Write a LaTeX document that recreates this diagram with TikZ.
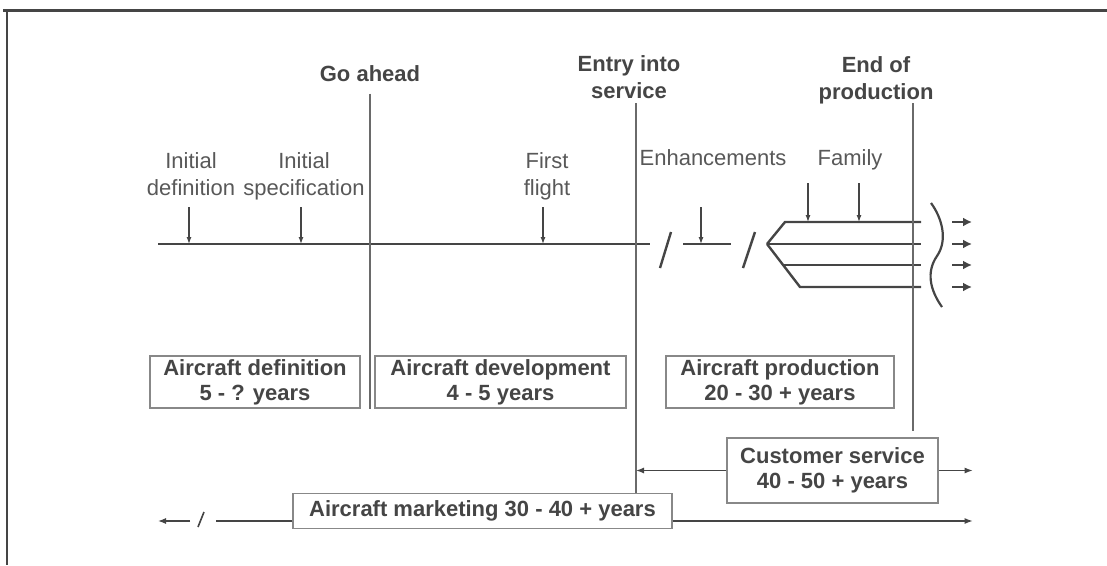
\documentclass[tikz,border=0pt]{standalone}
\usepackage{fontspec}
\setmainfont{Liberation Sans}
\usepackage{xcolor}
\usetikzlibrary{arrows.meta, positioning}
\definecolor{ink}{HTML}{454545}
\definecolor{rulegray}{HTML}{6A6A6A}

\begin{document}
\begin{tikzpicture}[
  x=1pt, y=-1pt,
  lbl/.style={inner sep=0pt, anchor=north, align=center, text=ink!90, font=\fontsize{22}{27}\selectfont},
  mile/.style={lbl, text=ink, font=\fontsize{22}{27}\selectfont\bfseries},
  box/.style={rectangle, draw=rulegray!80, line width=1.3pt, fill=white, align=center, text=ink, font=\fontsize{22}{25}\selectfont\bfseries, inner sep=0pt},
  vline/.style={draw=rulegray, line width=1.2pt},
  life/.style={draw=ink, line width=2.4pt},
  tick/.style={-{Latex[length=7pt,width=5pt]}, draw=ink, line width=1.2pt},
  arr/.style={-{Latex[length=8pt,width=6pt]}, draw=ink, line width=1.2pt},
  fat/.style={-{Latex[length=9pt,width=9pt]}, draw=ink, line width=2.2pt}
]
\useasboundingbox (0,0) rectangle (1107,565);
\draw[draw=ink, line width=2.4pt] (3,10.5) -- (1107,10.5);
\draw[draw=ink, line width=2.4pt] (7,10.5) -- (7,565);

\node[lbl] (defn) at (191,152) {Initial\\definition};
\node[lbl] (spec) at (304,152) {Initial\\specification};
\node[lbl] (flight) at (547,152) {First\\flight};
\node[lbl] (enh) at (713,149) {Enhancements};
\node[lbl] (fam) at (850,149) {Family};
\node[mile] (ga) at (370,65) {Go ahead};
\node[mile] (eis) at (629,55) {Entry into\\service};
\node[mile] (eop) at (876,56) {End of\\production};

\coordinate (t0) at (158,244);
\coordinate (t1) at (650,244);
\coordinate (m1) at (189,244);
\coordinate (m2) at (301,244);
\coordinate (m3) at (543,244);
\coordinate (e0) at (683,244);
\coordinate (e1) at (731,244);
\coordinate (m4) at (701,244);
\coordinate (b0) at (767,244);
\coordinate (f1) at (808,222);
\coordinate (f2) at (859,222);
\coordinate (eisx) at (636,103);
\coordinate (eopx) at (913,103);

\draw[life] (t0) -- (t1);
\draw[tick] (m1) ++(0,-37) -- (m1);
\draw[tick] (m2) ++(0,-37) -- (m2);
\draw[tick] (m3) ++(0,-37) -- (m3);
\draw[life] (660,268) -- (671,232);
\draw[life, line width=2pt] (e0) -- (e1);
\draw[tick] (m4) ++(0,-37) -- (m4);
\draw[life] (743,268) -- (755,232);
\draw[life] (b0) -- (785,222) -- (921,222);
\draw[life] (b0) -- (921,244);
\draw[life] (b0) -- (800,287) -- (921,287);
\draw[life] (783,265) -- (921,265);
\draw[tick] (f1) ++(0,-39) -- (f1);
\draw[tick] (f2) ++(0,-39) -- (f2);
\draw[life, line width=2.2pt] (931,203) .. controls (942,218) and (948,240) .. (937,256) .. controls (926,272) and (930,290) .. (942,307);
\foreach \yy in {222,244,265,287}
  \draw[fat] (952,\yy) -- (972,\yy);

\node[box, minimum width=210pt, minimum height=52pt] (bdef) at (255,382) {Aircraft definition\\5 - ? years};
\node[box, minimum width=251pt, minimum height=52pt] (bdev) at (500.5,382) {Aircraft development\\4 - 5 years};
\node[box, minimum width=228pt, minimum height=52pt] (bprod) at (780,382) {Aircraft production\\20 - 30 + years};
\node[box, minimum width=211pt, minimum height=65pt] (bcust) at (832.5,470.5) {Customer service\\40 - 50 + years};
\node[box, minimum width=379pt, minimum height=35pt] (bmkt) at (482.5,511) {Aircraft marketing 30 - 40 + years};

\draw[vline] ([yshift=-12pt]ga.south) -- ++(0,315);
\draw[vline] (eisx) -- (eisx |- bmkt.north);
\draw[vline] (eopx) -- ++(0,328);

\draw[arr] (bcust.west) -- (bcust.west -| eisx);
\draw[arr] (bcust.east) -- ++(34,0);
\draw[arr] ([yshift=-10pt]bmkt.east) -- ++(300,0);
\draw[vline, draw=ink] ([yshift=-10pt]bmkt.west) -- ++(-76,0);
\draw[vline, draw=ink, line width=1.6pt] (198,527) -- (204,512);
\draw[arr] (190,521) -- (158,521);
\end{tikzpicture}
\end{document}
